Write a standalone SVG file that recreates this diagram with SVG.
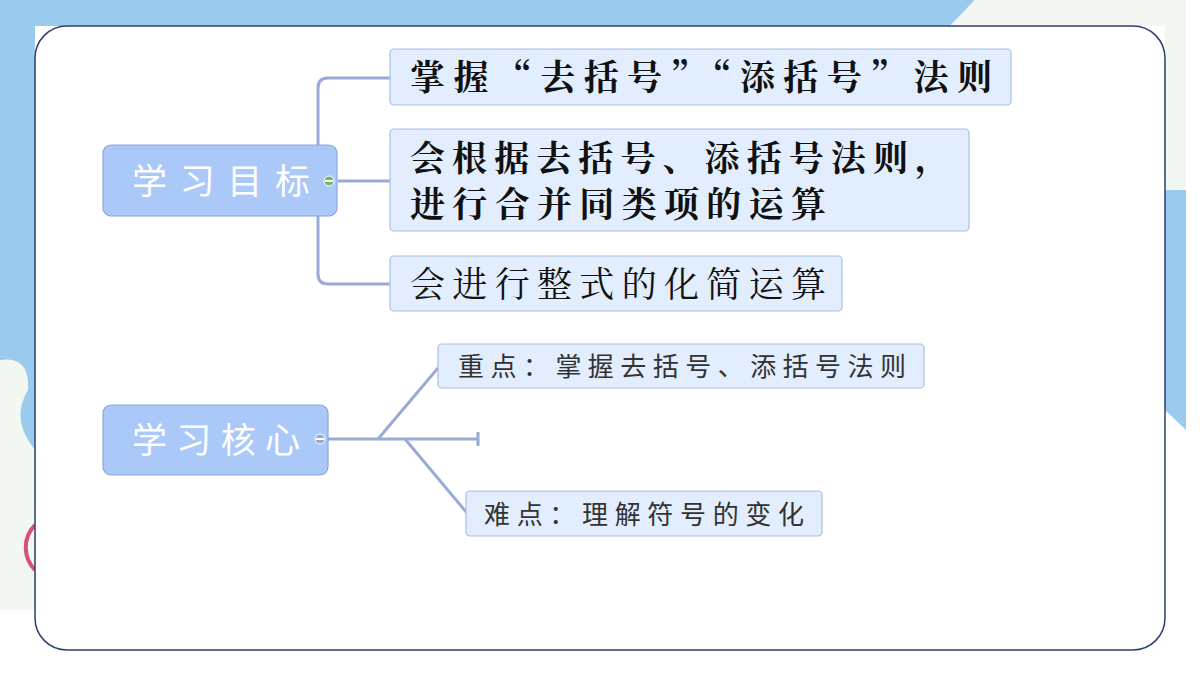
<svg xmlns="http://www.w3.org/2000/svg" width="1200" height="675" viewBox="0 0 1200 675">
<style>
.c{fill:none;stroke:#9aaad6;stroke-width:3}
.root{fill:#aac8f8;stroke:#8aa6dc;stroke-width:1.2}
.sub{fill:#e2edfd;stroke:#a9bedf;stroke-width:1.2}
.rt{font-family:"Noto Sans CJK SC",sans-serif;font-size:35px;fill:#fff}
.bt{font-family:"Noto Serif CJK SC","Noto Sans CJK SC",serif;font-size:35px;fill:#111;font-weight:bold}
.st{font-family:"Noto Sans CJK SC",sans-serif;font-size:26px;fill:#333}
</style>
<rect width="1200" height="675" fill="#fff"/>
<path d="M0 0H975L950 26H35V610H0Z" fill="#9acbee"/>
<path d="M975 0H1186V190H1165V26H950Z" fill="#f2f7f2"/>
<path d="M1165 190H1186V430L1165 410Z" fill="#9acbee"/>
<path d="M0 360Q30 355 28 390Q10 420 35 450V610H0Z" fill="#f2f7f2"/>
<path d="M35 525A32 32 0 0 0 35 570" fill="none" stroke="#d9507a" stroke-width="4"/>
<rect x="35" y="26" width="1130" height="624" rx="32" fill="#fff" stroke="#2e3f6e" stroke-width="1.5"/>
<g id="connectors">
<path class="c" d="M318 145V88Q318 78 328 78H392M318 216V274Q318 284 328 284H392M338 181H392"/>
<path class="c" d="M328 439H478M478 432V446M378 439L438 368M405 439L467 513"/>
</g>
<g id="n1"><rect class="root" x="103" y="145" width="234" height="71" rx="8"/><text class="rt" x="132" y="194" textLength="178" lengthAdjust="spacing">学习目标</text><circle cx="329" cy="181" r="5" fill="#6fb86a" stroke="#fff"/><rect x="325" y="180" width="8" height="2" fill="#fff"/></g>
<g id="n2"><rect class="sub" x="390" y="49" width="621" height="56" rx="4"/><text class="bt" x="410" y="90" textLength="582" lengthAdjust="spacing">掌握“去括号”“添括号”法则</text></g>
<g id="n3"><rect class="sub" x="390" y="129" width="579" height="102" rx="4"/><text class="bt" x="410" y="171" textLength="540" lengthAdjust="spacing">会根据去括号、添括号法则，</text><text class="bt" x="410" y="217" textLength="416" lengthAdjust="spacing">进行合并同类项的运算</text></g>
<g id="n4"><rect class="sub" x="390" y="256" width="452" height="55" rx="4"/><text class="bt" x="410" y="297" textLength="416" lengthAdjust="spacing" style="font-weight:normal">会进行整式的化简运算</text></g>
<g id="n5"><rect class="root" x="103" y="405" width="225" height="70" rx="8"/><text class="rt" x="132" y="453" textLength="168" lengthAdjust="spacing">学习核心</text><circle cx="320" cy="439" r="5" fill="#9aaad6" stroke="#fff"/><rect x="316" y="438" width="8" height="2" fill="#fff"/></g>
<g id="n6"><rect class="sub" x="438" y="344" width="486" height="44" rx="4"/><text class="st" x="458" y="376" textLength="448" lengthAdjust="spacing">重点：掌握去括号、添括号法则</text></g>
<g id="n7"><rect class="sub" x="466" y="491" width="356" height="45" rx="4"/><text class="st" x="484" y="524" textLength="320" lengthAdjust="spacing">难点：理解符号的变化</text></g>
</svg>
